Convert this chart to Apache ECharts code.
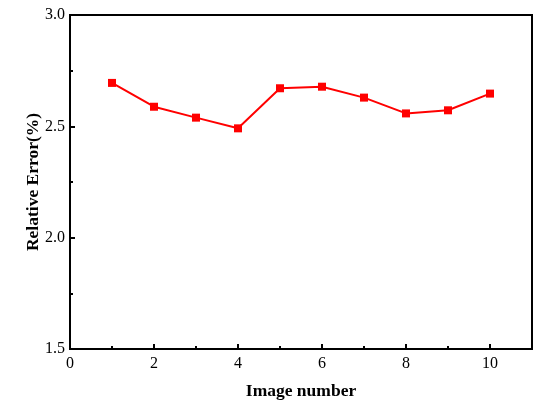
<!DOCTYPE html>
<html>
<head>
<meta charset="utf-8">
<script src="https://cdn.jsdelivr.net/npm/echarts@6/dist/echarts.min.js"></script>
<style>
  html, body { margin: 0; padding: 0; background: #fff; }
  #chart { width: 550px; height: 408px; }
</style>
</head>
<body>
<div id="chart"></div>
<script>
const imageNumbers = [1, 2, 3, 4, 5, 6, 7, 8, 9, 10]
const relativeError = [2.695, 2.588, 2.539, 2.491, 2.671, 2.678, 2.629, 2.558, 2.572, 2.647]

const font = '"Liberation Serif", "Times New Roman", serif'
const chart = echarts.init(document.getElementById('chart'))

chart.setOption({
  animation: false,
  grid: {
    left: 70,
    right: 18,
    top: 15,
    bottom: 59,
    show: true,
    borderColor: '#000',
    borderWidth: 2,
    backgroundColor: 'transparent'
  },
  xAxis: {
    type: 'value',
    min: 0,
    max: 11,
    interval: 2,
    name: 'Image number',
    nameLocation: 'middle',
    nameGap: 33,
    nameMoveOverlap: false,
    nameTextStyle: { fontFamily: font, fontSize: 17.5, fontWeight: 'bold', color: '#000' },
    axisLine: { lineStyle: { color: '#000', width: 2 } },
    axisTick: { inside: true, length: 5, lineStyle: { color: '#000', width: 2 } },
    minorTick: { show: true, splitNumber: 2, length: 3, lineStyle: { color: '#000', width: 2 } },
    axisLabel: {
      fontFamily: font, fontSize: 16, color: '#000', margin: 7,
      formatter: v => (v > 10 ? '' : String(v))
    },
    splitLine: { show: false }
  },
  yAxis: {
    type: 'value',
    min: 1.5,
    max: 3.0,
    interval: 0.5,
    name: 'Relative Error(%)',
    nameLocation: 'middle',
    nameGap: 28,
    nameMoveOverlap: false,
    nameTextStyle: { fontFamily: font, fontSize: 17.5, fontWeight: 'bold', color: '#000' },
    axisLine: { lineStyle: { color: '#000', width: 2 } },
    axisTick: { inside: true, length: 5, lineStyle: { color: '#000', width: 2 } },
    minorTick: { show: true, splitNumber: 2, length: 3, lineStyle: { color: '#000', width: 2 } },
    axisLabel: {
      fontFamily: font, fontSize: 16, color: '#000', margin: 5,
      formatter: v => v.toFixed(1)
    },
    splitLine: { show: false }
  },
  series: [
    {
      type: 'line',
      data: imageNumbers.map((x, i) => [x, relativeError[i]]),
      symbol: 'rect',
      symbolSize: 8,
      lineStyle: { color: '#ff0000', width: 2 },
      itemStyle: { color: '#ff0000' }
    }
  ]
})
</script>
</body>
</html>
